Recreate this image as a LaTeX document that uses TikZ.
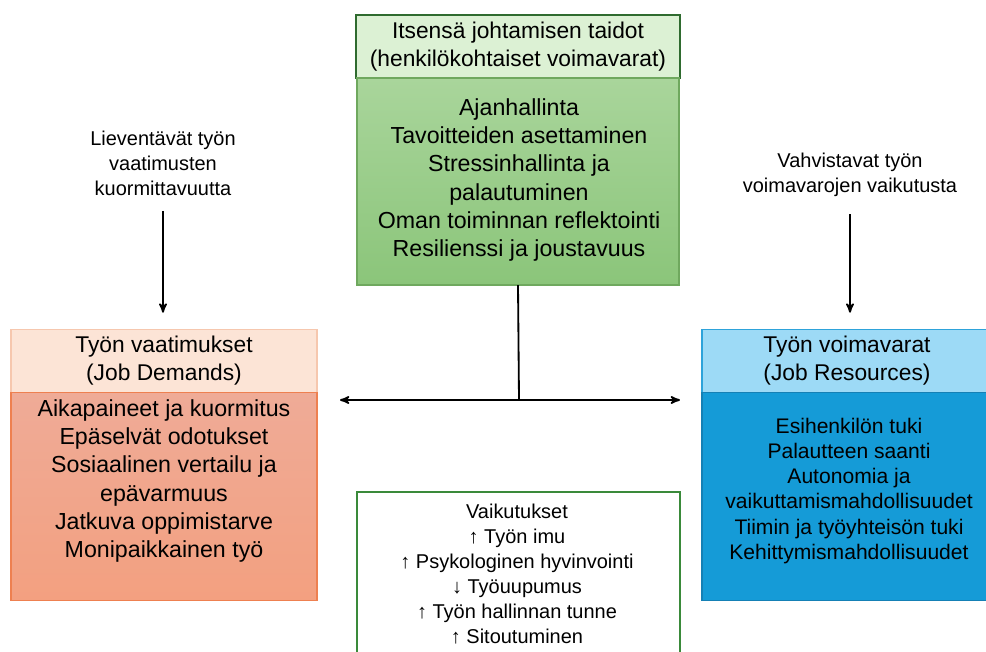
\documentclass[tikz,border=0pt]{standalone}
\usepackage{fontspec}
\setmainfont{Liberation Sans}
\usetikzlibrary{arrows,positioning}
\definecolor{selfhd}{HTML}{DCF1D4}
\definecolor{selfln}{HTML}{2F6B2F}
\definecolor{selftop}{HTML}{A9D59B}
\definecolor{selfbot}{HTML}{8BC57A}
\definecolor{selfedge}{HTML}{6FA85E}
\definecolor{demhd}{HTML}{FCE4D6}
\definecolor{demln}{HTML}{F6C7AE}
\definecolor{demtop}{HTML}{EFAB97}
\definecolor{dembot}{HTML}{F3A080}
\definecolor{demedge}{HTML}{EE8050}
\definecolor{reshd}{HTML}{9DDAF6}
\definecolor{resln}{HTML}{2EA3DA}
\definecolor{resfill}{HTML}{159BD7}
\definecolor{resedge}{HTML}{1580B5}
\definecolor{effln}{HTML}{3A8A3A}
\tikzstyle{head} = [rectangle, draw, line width=1pt, outer sep=0pt,
    align=center, minimum height=1.575cm, font=\fontsize{16.2}{20}\selectfont]
\tikzstyle{body} = [rectangle, draw, line width=1pt, outer sep=0pt,
    minimum height=5.2cm]
\tikzstyle{list} = [align=center, font=\fontsize{16.5}{20}\selectfont]
\tikzstyle{small} = [align=center, font=\fontsize{14.2}{17.8}\selectfont]

\begin{document}
\begin{tikzpicture}[x=0.025cm,y=-0.025cm,>=stealth',line width=1.3pt]
  \useasboundingbox (0,0) rectangle (986,651);

  % self-leadership skills
  \node[head, fill=selfhd, draw=selfln, minimum width=8.1cm] (selfhead) at (518,46.5)
    {Itsensä johtamisen taidot\\(henkilökohtaiset voimavarat)};
  \node[body, top color=selftop, bottom color=selfbot, draw=selfedge,
        minimum width=8.05cm, minimum height=5.175cm] (selfbody) [below=0pt of selfhead] {};
  \node[list] (selftext) at (519,180) {Ajanhallinta\\Tavoitteiden asettaminen\\Stressinhallinta ja\\palautuminen\\Oman toiminnan reflektointi\\Resilienssi ja joustavuus};

  % job demands
  \node[head, fill=demhd, draw=demln, minimum width=7.65cm] (demhead) at (164,361)
    {Työn vaatimukset\\(Job Demands)};
  \node[body, top color=demtop, bottom color=dembot, draw=demedge,
        minimum width=7.65cm] (dembody) [below=0pt of demhead] {};
  \node[list] (demtext) at (164,481) {Aikapaineet ja kuormitus\\Epäselvät odotukset\\Sosiaalinen vertailu ja\\epävarmuus\\Jatkuva oppimistarve\\Monipaikkainen työ};

  % job resources
  \node[head, fill=reshd, draw=resln, minimum width=7.25cm] (reshead) at (847,361)
    {Työn voimavarat\\(Job Resources)};
  \node[body, fill=resfill, draw=resedge,
        minimum width=7.25cm] (resbody) [below=0pt of reshead] {};
  \node[list, font=\fontsize{15}{17.8}\selectfont] (restext) at (849,491) {Esihenkilön tuki\\Palautteen saanti\\Autonomia ja\\vaikuttamismahdollisuudet\\Tiimin ja työyhteisön tuki\\Kehittymismahdollisuudet};

  % effects
  \node[body, draw=effln, fill=white, minimum width=8.075cm, minimum height=4.45cm] (effbox) at (518.5,581) {};
  \node[small] (efftext) at (517,574) {Vaikutukset\\↑ Työn imu\\↑ Psykologinen hyvinvointi\\↓ Työuupumus\\↑ Työn hallinnan tunne\\↑ Sitoutuminen};

  % moderating notes
  \node[small] (demnote) at (163,163) {Lieventävät työn\\vaatimusten\\kuormittavuutta};
  \node[small] (resnote) at (850,175) {Vahvistavat työn\\voimavarojen vaikutusta};

  \draw[->, shorten <=0.25cm, shorten >=0.42cm] (demnote.south) -- (demnote.south |- demhead.north);
  \draw[->, shorten <=0.3cm, shorten >=0.42cm] (resnote.south) -- (resnote.south |- reshead.north);

  \coordinate (hub) at (519,400);
  \draw (selfbody.south) -- (hub);
  \draw[<->, shorten <=0.575cm, shorten >=0.55cm] (dembody.east |- hub) -- (resbody.west |- hub);
\end{tikzpicture}
\end{document}
